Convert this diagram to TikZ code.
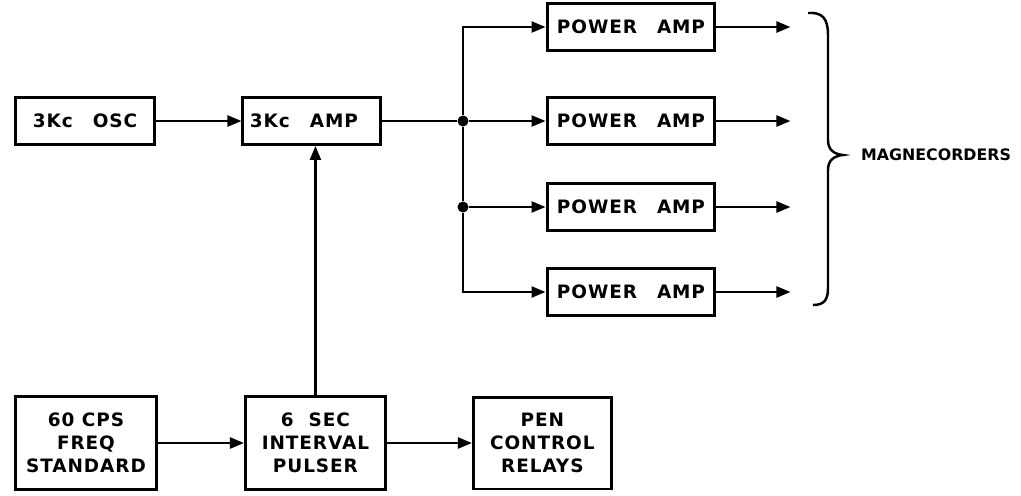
\documentclass[tikz,border=0pt]{standalone}
\usepackage{fontspec}
\setmainfont[LetterSpace=5]{DejaVu Sans}
\usetikzlibrary{arrows.meta,positioning}

\begin{document}
\begin{tikzpicture}[x=0.02cm,y=-0.02cm,>={Triangle[length=2.8mm,width=2.2mm]},
 blk/.style={draw,line width=1.7pt,minimum height=0.94cm,align=center,inner sep=2pt,
  font=\bfseries\fontsize{10.5}{13}\selectfont},
 pamp/.style={blk,minimum width=3.36cm},
 tall/.style={blk,minimum width=2.8cm,minimum height=1.86cm},
 wire/.style={line width=1.3pt},
 dot/.style={circle,fill,inner sep=0pt,minimum size=2.2mm}]
\useasboundingbox (0,0) rectangle (1021,495);
% upper chain
\node[blk,minimum width=2.8cm] (osc) at (85,121) {3Kc\hspace{4mm}OSC};
\node[blk,right=1.7cm of osc,text width=2.48cm,align=left,inner xsep=4pt] (amp) {3Kc\hspace{4mm}AMP};
\foreach \i/\y in {1/27,2/121,3/207,4/292}
  \node[pamp] (pa\i) at (631,\y) {POWER\hspace{4mm}AMP};
% lower chain
\node[tall,minimum width=2.82cm] (std) at (86,443) {60 CPS\\FREQ\\STANDARD};
\node[tall,right=1.72cm of std] (pulser) {6\hspace{3mm}SEC\\INTERVAL\\PULSER};
\node[tall,minimum width=2.76cm,minimum height=1.84cm,right=1.7cm of pulser] (pen) {PEN\\CONTROL\\RELAYS};
% junctions
\node[dot] (j1) at (463,121) {};
\node[dot] (j2) at (463,207) {};
\draw[wire,->] (osc) -- (amp);
\draw[wire,->] (pulser.north) -- (pulser.north |- amp.south);
\draw[wire,->] (std) -- (pulser);
\draw[wire,->] (pulser) -- (pen);
\draw[wire] (amp) -- (j1);
\draw[wire] (j1) -- (j2);
\draw[wire,->] (j1) |- (pa1);
\draw[wire,->] (j1) -- (pa2);
\draw[wire,->] (j2) -- (pa3);
\draw[wire,->] (j2) |- (pa4);
\foreach \i in {1,...,4}{
  \coordinate (out\i) at ([xshift=1.48cm]pa\i.east);
  \draw[wire,->] (pa\i) -- (out\i);
}
% brace
\draw[line width=1.4pt] (808,13) .. controls (822,12) and (828,18) .. (828,35) -- (828,140)
  .. controls (828,150) and (834,154) .. (843,155) .. controls (834,156) and (828,160) .. (828,170)
  -- (828,288) .. controls (828,300) and (824,305) .. (813,305);
\node[anchor=west,font=\bfseries\fontsize{9}{11}\selectfont\addfontfeature{LetterSpace=0}] (mag) at (855,155) {MAGNECORDERS};
\end{tikzpicture}
\end{document}
